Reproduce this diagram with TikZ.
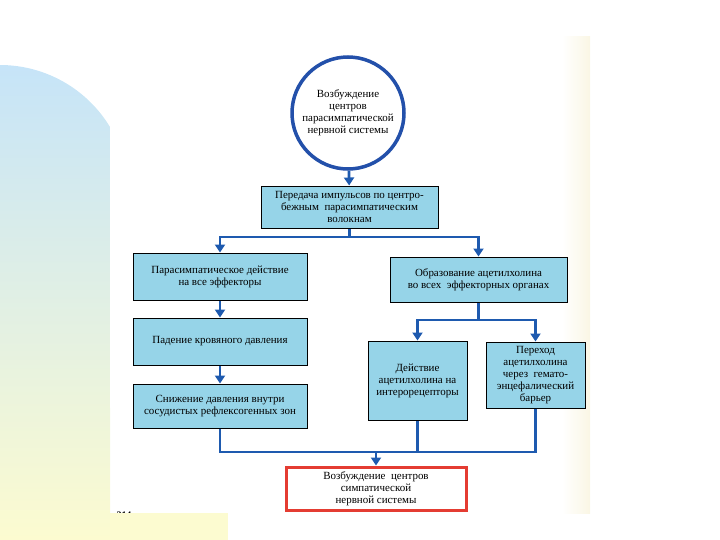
\documentclass[tikz,border=0pt]{standalone}
\usepackage{fontspec}
\setmainfont{Liberation Serif}
\usetikzlibrary{arrows.meta}
\definecolor{linkblue}{RGB}{30,90,175}
\definecolor{boxblue}{RGB}{150,212,232}
\definecolor{ringblue}{RGB}{35,80,170}
\definecolor{redline}{RGB}{228,60,50}
\definecolor{skyblue}{RGB}{198,228,248}
\definecolor{paleyellow}{RGB}{252,251,208}
\definecolor{cream}{RGB}{250,246,228}
\tikzset{
  blockbox/.style={draw=black,line width=1bp,fill=boxblue,align=center,inner sep=1bp,font=\fontsize{11}{12}\selectfont},
  link/.style={draw=linkblue,line width=2.8bp},
  linkarr/.style={link,-{Triangle[width=10bp,length=8bp]}},
}
\begin{document}
\begin{tikzpicture}
\useasboundingbox (0bp,0bp) rectangle (720bp,-540bp);
\shade[top color=skyblue,bottom color=paleyellow] (0bp,-540bp) -- (0bp,-65bp) arc(90:31.2:128.6bp) -- (110bp,-540bp) -- cycle;
\shade[left color=white,right color=cream] (562bp,-36bp) rectangle (590bp,-513bp);
\node (pagenum) at (124bp,-515bp)[font=\bfseries\fontsize{10}{10}\selectfont] {214};
\fill[paleyellow] (110bp,-513bp) rectangle (228bp,-540bp);

\node (parasym) at (348bp,-113bp)[circle,draw=ringblue,line width=3.5bp,fill=white,minimum size=112bp,inner sep=0pt,align=center,font=\fontsize{11}{12}\selectfont] {Возбуждение\\центров\\парасимпатической\\нервной системы};
\node (impulse) at (349.5bp,-207bp)[blockbox,minimum width=177bp,minimum height=42bp] {Передача импульсов по центро-\\бежным\ \ парасимпатическим\\волокнам};
\node (effect) at (220bp,-276.5bp)[blockbox,minimum width=174bp,minimum height=47bp] {Парасимпатическое действие\\на все эффекторы};
\node (acetyl) at (478.5bp,-279.5bp)[blockbox,minimum width=177bp,minimum height=45bp] {Образование ацетилхолина\\во всех\ \ эффекторных органах};
\node (pressure) at (220bp,-341.5bp)[blockbox,minimum width=174bp,minimum height=47bp] {Падение кровяного давления};
\node (reflex) at (220bp,-406bp)[blockbox,minimum width=174bp,minimum height=44bp] {Снижение давления внутри\\сосудистых рефлексогенных зон};
\node (intero) at (417.5bp,-380.5bp)[blockbox,minimum width=99bp,minimum height=79bp] {Действие\\ацетилхолина на\\интерорецепторы};
\node (barrier) at (535.5bp,-375bp)[blockbox,minimum width=99bp,minimum height=66bp] {Переход\\ацетилхолина\\через\ \ гемато-\\энцефалический\\барьер};
\node (sympath) at (376bp,-488.5bp)[draw=redline,line width=3bp,fill=white,minimum width=180bp,minimum height=43bp,align=center,font=\fontsize{11}{12}\selectfont] {Возбуждение\ \ центров\\симпатической\\нервной системы};

\coordinate (fork1) at (349.5bp,-237bp);
\coordinate (fork2) at (478.5bp,-320bp);
\coordinate (merge) at (376bp,-452bp);

\draw [linkarr] (parasym) -- (impulse);
\draw [link] (impulse) -- (fork1);
\draw [linkarr] (fork1) -| (effect);
\draw [linkarr] (fork1) -| (acetyl);
\draw [linkarr] (effect) -- (pressure);
\draw [linkarr] (pressure) -- (reflex);
\draw [link] (acetyl) -- (fork2);
\draw [linkarr] (fork2) -| (intero);
\draw [linkarr] (fork2) -| (barrier);
\draw [link] (reflex) |- (merge);
\draw [link] (intero) |- (merge);
\draw [link] (barrier) |- (merge);
\draw [linkarr] (merge) -- (sympath);
\end{tikzpicture}
\end{document}
